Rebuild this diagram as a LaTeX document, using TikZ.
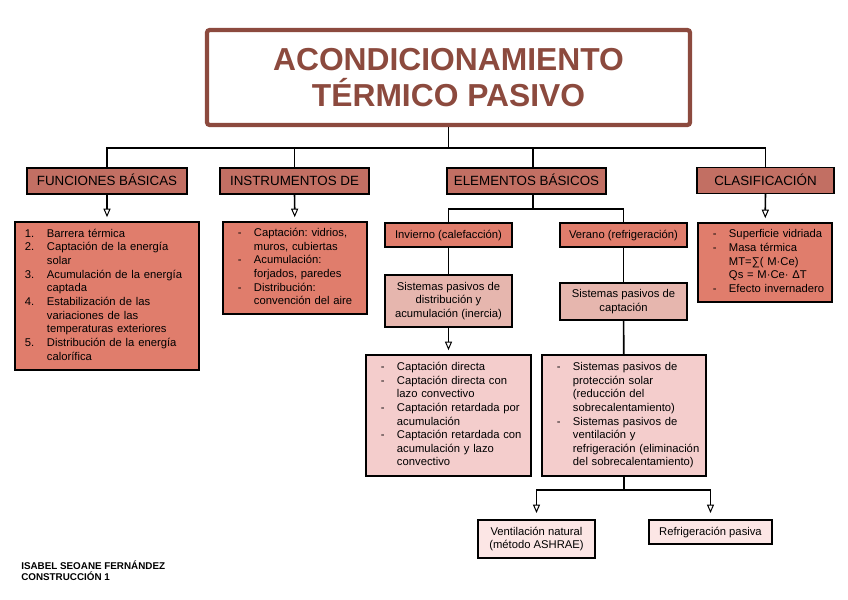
\documentclass[tikz,border=0pt]{standalone}
\usepackage{fontspec}
\setmainfont{Liberation Sans}
\usetikzlibrary{positioning, arrows.meta, calc}
\definecolor{tbrown}{RGB}{140,74,62}
\definecolor{tdark}{RGB}{194,111,99}
\definecolor{tsalmon}{RGB}{224,125,108}
\definecolor{trose}{RGB}{230,182,174}
\definecolor{tpink}{RGB}{244,205,204}
\definecolor{tpale}{RGB}{252,230,229}
\newcommand{\lst}[2]{\begin{tabular}{@{}p{#1}@{}l@{}}#2\end{tabular}}
\frenchspacing

\begin{document}
\begin{tikzpicture}[x=0.025cm, y=-0.025cm,
      every node/.style={font=\fontsize{8}{9.7}\selectfont, inner sep=0pt},
      bx/.style={draw, line width=0.9pt, align=center},
      titlebox/.style={draw=tbrown, line width=3pt, rounded corners=2pt, fill=white, text=tbrown, align=center, minimum width=12.075cm, minimum height=2.375cm, font=\fontsize{22.6}{25}\selectfont\bfseries},
      head/.style={bx, fill=tdark, minimum height=0.65cm, text height=7pt, text depth=0pt, font=\fontsize{9.5}{11}\selectfont},
      lbox/.style={bx, fill=tsalmon, align=left, inner xsep=#1},
      sub/.style={bx, fill=tsalmon, minimum width=3.175cm, minimum height=0.6cm, text height=6pt, text depth=1.7pt},
      sys/.style={bx, fill=trose, minimum width=3.175cm},
      low/.style={bx, fill=tpink, align=left, inner xsep=0.375cm, minimum height=3.025cm},
      leaf/.style={bx, fill=tpale, minimum height=0.6cm},
      foot/.style={align=left, font=\fontsize{7}{8.5}\selectfont\bfseries},
      lnk/.style={line width=1.2pt},
      arr/.style={lnk, -{Triangle[open, length=6pt, width=5pt, line width=0.7pt]}, shorten >=3pt},
  ]
    \useasboundingbox (0,0) rectangle (848,599);

    % title
    \node[titlebox] (title) at (448.5,77.5) {ACONDICIONAMIENTO\\TÉRMICO PASIVO};

    % first level
    \node[head, minimum width=4cm] (fun) at (107,181) {FUNCIONES BÁSICAS};
    \node[head, minimum width=3.725cm] (ins) at (294.5,181) {INSTRUMENTOS DE};
    \node[head, minimum width=3.975cm] (ele) at (526.5,181) {ELEMENTOS BÁSICOS};
    \node[head, minimum width=3.425cm] (cla) at (765.5,180.5) {CLASIFICACIÓN};

    \coordinate (bus) at (448.5,148);
    \coordinate (eletop) at ($(ele.north)+(6.5,0)$);
    \draw[lnk] (title) -- (bus);
    \draw[lnk] (fun.north) |- (bus) -| (cla.north);
    \draw[lnk] (ins.north) -- (ins.north |- bus);
    \draw[lnk] (eletop) -- (eletop |- bus);

    % lists
    \node[lbox=0.25cm, text width=4.1cm, minimum height=3.7cm] (funL) at (107,296) {\lst{0.55cm}{%
      1. & Barrera térmica\\
      2. & Captación de la energía\\
         & solar\\
      3. & Acumulación de la energía\\
         & captada\\
      4. & Estabilización de las\\
         & variaciones de las\\
         & temperaturas exteriores\\
      5. & Distribución de la energía\\
         & calorífica}};
    \node[lbox=0.375cm, text width=2.85cm, minimum height=2.3cm] (insL) at (295,268) {\lst{0.4cm}{%
      - & Captación: vidrios,\\
        & muros, cubiertas\\
      - & Acumulación:\\
        & forjados, paredes\\
      - & Distribución:\\
        & convención del aire}};
    \node[lbox=0.375cm, text width=2.6cm, minimum height=1.975cm] (claL) at (765,262.5) {\lst{0.4cm}{%
      - & Superficie vidriada\\
      - & Masa térmica\\
        & MT=∑( M·Ce)\\
        & Qs = M·Ce· ΔT\\
      - & Efecto invernadero}};

    \draw[arr] (fun) -- (funL);
    \draw[arr] (ins) -- (insL);
    \draw[arr] (cla) -- (claL);

    % elementos basicos
    \node[sub] (inv) at (448.5,235) {Invierno (calefacción)};
    \node[sub] (ver) at (623.5,235) {Verano (refrigeración)};
    \coordinate (eb) at (533,209);
    \draw[lnk] ($(ele.south)+(6.5,0)$) -- (eb);
    \draw[lnk] (inv.north) |- (eb) -| (ver.north);

    \node[sys, minimum height=1.3cm] (sdis) at (448.5,301) {Sistemas pasivos de\\distribución y\\acumulación (inercia)};
    \node[sys, minimum height=0.925cm] (scap) at (623.5,301.5) {Sistemas pasivos de\\captación};
    \draw[lnk] (inv) -- (sdis);
    \draw[lnk] (ver) -- (scap);

    \node[low, text width=3.375cm, minimum width=4.125cm] (capL) at (448.5,415.5) {\lst{0.4cm}{%
      - & Captación directa\\
      - & Captación directa con\\
        & lazo convectivo\\
      - & Captación retardada por\\
        & acumulación\\
      - & Captación retardada con\\
        & acumulación y lazo\\
        & convectivo}};
    \node[low, text width=3.35cm, minimum width=4.1cm] (proL) at (624,415.5) {\lst{0.4cm}{%
      - & Sistemas pasivos de\\
        & protección solar\\
        & (reducción del\\
        & sobrecalentamiento)\\
      - & Sistemas pasivos de\\
        & ventilación y\\
        & refrigeración (eliminación\\
        & del sobrecalentamiento)}};
    \draw[arr] (sdis) -- (capL);
    \draw[lnk] (scap) -- (proL);

    % verano leaves
    \node[leaf, minimum width=2.925cm, minimum height=0.95cm] (vent) at (536.5,539) {Ventilación natural\\(método ASHRAE)};
    \node[leaf, minimum width=3.075cm, text height=6pt, text depth=1.7pt] (refr) at (710.5,532) {Refrigeración pasiva};
    \coordinate (pb) at (624,490);
    \draw[lnk] (proL) -- (pb);
    \draw[arr, shorten >=4.5pt] (pb) -| (vent.north);
    \draw[arr, shorten >=4.5pt] (pb) -| (refr.north);

    \node[foot, anchor=north west] (auth) at (21,560) {ISABEL SEOANE FERNÁNDEZ\\CONSTRUCCIÓN 1};
  \end{tikzpicture}
\end{document}
